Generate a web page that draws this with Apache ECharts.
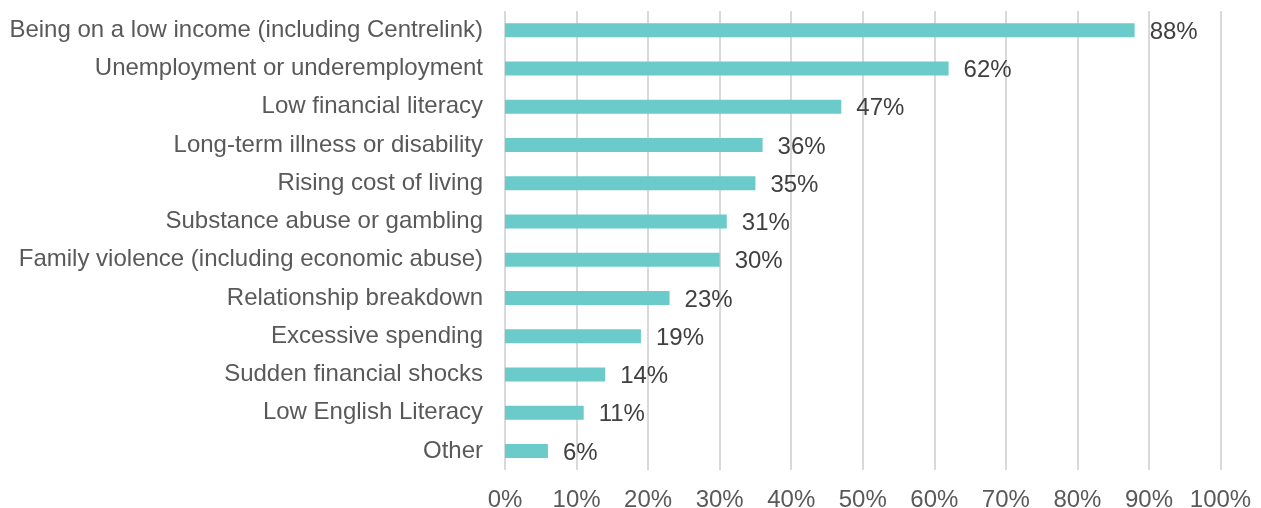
<!DOCTYPE html>
<html>
<head>
<meta charset="utf-8">
<script src="https://cdn.jsdelivr.net/npm/echarts@6/dist/echarts.min.js"></script>
<style>html,body{margin:0;padding:0;background:#fff}#c{width:1261px;height:508px}</style>
</head>
<body>
<div id="c"></div>
<script>
const categories = [
  "Being on a low income (including Centrelink)",
  "Unemployment or underemployment",
  "Low financial literacy",
  "Long-term illness or disability",
  "Rising cost of living",
  "Substance abuse or gambling",
  "Family violence (including economic abuse)",
  "Relationship breakdown",
  "Excessive spending",
  "Sudden financial shocks",
  "Low English Literacy",
  "Other"
];
const values = [88, 62, 47, 36, 35, 31, 30, 23, 19, 14, 11, 6];
const xTicks = [0, 10, 20, 30, 40, 50, 60, 70, 80, 90, 100];

const chart = echarts.init(document.getElementById('c'), null, {renderer: 'canvas'});
chart.setOption({
  animation: false,
  backgroundColor: '#fff',
  grid: {left: 505, right: 40.5, top: 11, bottom: 38, containLabel: false, outerBoundsMode: 'none'},
  xAxis: {
    type: 'value', min: xTicks[0], max: xTicks[xTicks.length - 1], interval: 10,
    axisLine: {show: false}, axisTick: {show: false},
    splitLine: {show: true, lineStyle: {color: '#d9d9d9', width: 2}},
    axisLabel: {formatter: '{value}%', color: '#595959', fontSize: 24, fontFamily: 'Liberation Sans, Arial, sans-serif', margin: 18}
  },
  yAxis: {
    type: 'category', data: categories, inverse: true,
    axisLine: {show: false}, axisTick: {show: false},
    axisLabel: {color: '#595959', fontSize: 24, fontFamily: 'Liberation Sans, Arial, sans-serif', margin: 22}
  },
  series: [{
    type: 'bar', data: values, barWidth: 14,
    itemStyle: {color: '#6bcbca'},
    label: {show: true, position: 'right', distance: 15, offset: [0, 2], formatter: '{c}%', color: '#404040', fontSize: 24, fontFamily: 'Liberation Sans, Arial, sans-serif'}
  }]
});
</script>
</body>
</html>
